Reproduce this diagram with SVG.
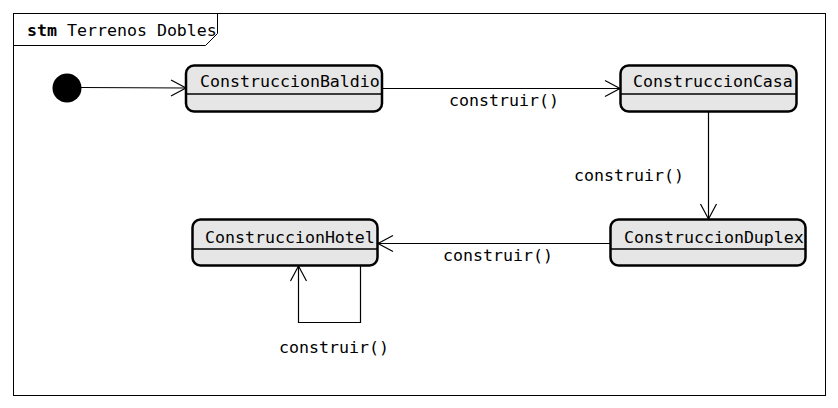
<svg xmlns="http://www.w3.org/2000/svg" width="838" height="408" viewBox="0 0 838 408">
<style>
text{font-family:"DejaVu Sans Mono","Liberation Mono",monospace;font-size:16.6px;fill:#000}
.st{fill:#e6e6e6;stroke:#000;stroke-width:2.5}
.dv{stroke:#000;stroke-width:1.5}
.ln{fill:none;stroke:#000;stroke-width:1.2}
</style>
<defs>
<marker id="ah" markerWidth="20" markerHeight="20" viewBox="-16 -10 20 20" refX="0" refY="0" orient="auto" markerUnits="userSpaceOnUse">
<path d="M-15,-8 L0,0 L-15,8" fill="none" stroke="#000" stroke-width="1.2"/>
</marker>
</defs>
<rect x="0" y="0" width="838" height="408" fill="#fff"/>
<g id="frame">
<rect x="13.5" y="13.5" width="812" height="382" fill="none" stroke="#000" stroke-width="1"/>
<path d="M13.5,45.5 H205.5 L217.5,33.5 V13.5" fill="none" stroke="#000" stroke-width="1"/>
<text x="27" y="36"><tspan font-weight="bold">stm</tspan> Terrenos Dobles</text>
</g>
<g id="initial">
<circle cx="67" cy="88" r="14.5" fill="#000"/>
</g>
<g id="ConstruccionBaldio">
<rect class="st" x="186" y="65.5" width="196" height="46" rx="8"/>
<line class="dv" x1="186" y1="94" x2="382" y2="94"/>
<text x="200" y="87">ConstruccionBaldio</text>
</g>
<g id="ConstruccionCasa">
<rect class="st" x="620.5" y="65.5" width="176" height="46" rx="8"/>
<line class="dv" x1="620.5" y1="94" x2="796.5" y2="94"/>
<text x="633" y="87">ConstruccionCasa</text>
</g>
<g id="ConstruccionDuplex">
<rect class="st" x="610.5" y="219.5" width="195" height="46" rx="8"/>
<line class="dv" x1="610.5" y1="249" x2="805.5" y2="249"/>
<text x="624" y="243">ConstruccionDuplex</text>
</g>
<g id="ConstruccionHotel">
<rect class="st" x="192.5" y="219.5" width="185" height="46" rx="8"/>
<line class="dv" x1="192.5" y1="249" x2="377.5" y2="249"/>
<text x="205" y="243">ConstruccionHotel</text>
</g>
<g id="connectors">
<line class="ln" x1="81" y1="87.5" x2="186" y2="88" marker-end="url(#ah)"/>
<line class="ln" x1="382" y1="88.5" x2="620" y2="88.5" marker-end="url(#ah)"/>
<text x="449" y="106">construir()</text>
<line class="ln" x1="708.5" y1="111" x2="708.5" y2="219" marker-end="url(#ah)"/>
<text x="574" y="181">construir()</text>
<line class="ln" x1="610" y1="243.5" x2="378" y2="243.5" marker-end="url(#ah)"/>
<text x="443" y="261">construir()</text>
<path class="ln" d="M360.5,266 V322.5 H298.5 V266" marker-end="url(#ah)"/>
<text x="279" y="353">construir()</text>
</g>
</svg>
